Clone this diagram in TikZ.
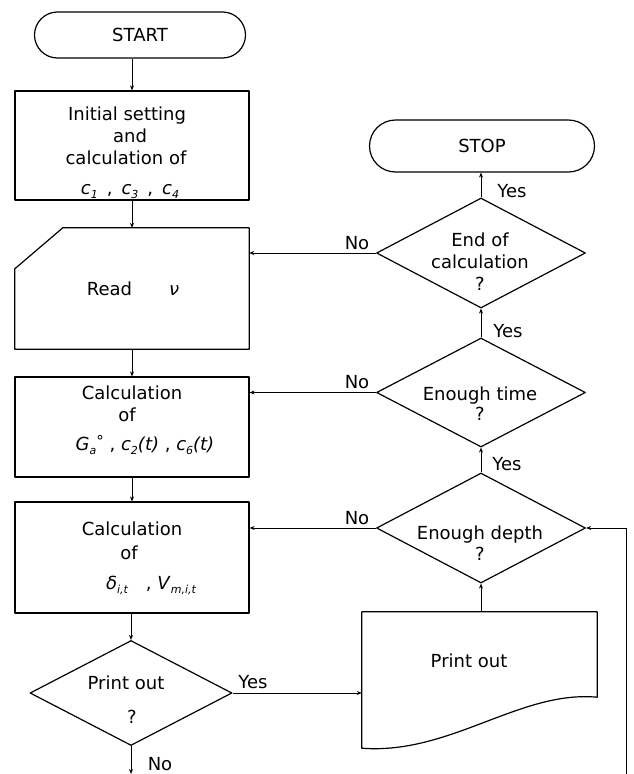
\documentclass[tikz,border=0pt]{standalone}
\usepackage{fontspec}
\setmainfont{DejaVu Sans}
\usetikzlibrary{shapes.geometric,shapes.misc,arrows.meta,calc}
\newcommand{\vsub}[1]{\raisebox{-4pt}{\fontsize{11}{11}\selectfont\itshape #1}}
\newcommand{\vsup}[1]{\raisebox{4pt}{\fontsize{15}{15}\selectfont #1}}
\begin{document}
\begin{tikzpicture}[x=1pt,y=-1pt,
  shp/.style={draw, line width=1.2pt, line join=round},
  term/.style={shp, rounded rectangle, inner sep=0pt, font=\fontsize{18}{22}\selectfont},
  proc/.style={shp, rectangle, inner sep=0pt, minimum width=234pt},
  dec/.style={shp, diamond, inner sep=0pt},
  ghost/.style={rectangle, inner sep=0pt},
  txt/.style={inner sep=0pt, anchor=base, font=\fontsize{18}{22}\selectfont},
  flow/.style={line width=0.9pt, -{Stealth[length=5pt,width=4pt]}}]
\useasboundingbox (0,0) rectangle (633,774);

% terminals
\node[term, minimum width=211pt, minimum height=46pt] (start) at (140,35) {START};
\node[term, minimum width=225pt, minimum height=52pt] (stop) at (482,146) {STOP};

% left column
\node[proc, minimum height=109pt] (init) at (132,145.5) {};
\node[ghost, minimum width=234pt, minimum height=121pt] (read) at (132,288.5) {};
\draw[shp] ($(read.north west)+(48,0)$) -- (read.north east) -- (read.south east)
  -- (read.south west) -- ($(read.north west)+(0,41)$) -- cycle;
\node[proc, minimum height=100pt] (calc1) at (132,427) {};
\node[proc, minimum height=111pt] (calc2) at (132,557.5) {};
\node[dec, minimum width=202pt, minimum height=105pt] (pd) at (131,693) {};

% right column
\node[dec, minimum width=209pt, minimum height=110pt] (endq) at (481,253) {};
\node[dec, minimum width=209pt, minimum height=109pt] (time) at (481,392.5) {};
\node[dec, minimum width=209pt, minimum height=110pt] (depth) at (481,528) {};
\node[ghost, minimum width=235pt, minimum height=136pt] (doc) at (479.5,680) {};
\draw[shp] (doc.north west) -- (doc.north east) -- ($(doc.south east)+(0,-51)$)
  .. controls (520,690) and (450,755) .. (doc.south west) -- cycle;

% texts
\node[txt] (t1) at (127,120) {Initial setting};
\node[txt] (t2) at (130,142) {and};
\node[txt] (t3) at (126,164) {calculation of};
\node[txt] (t4) at (130,194) {\textit{c}\vsub{1}\enspace,\enspace\textit{c}\vsub{3}\enspace,\enspace\textit{c}\vsub{4}};
\node[txt] (t5) at (133,295) {Read\hspace{37pt}\textit{ν}};
\node[txt] (t6) at (132,399) {Calculation};
\node[txt] (t7) at (127,421) {of};
\node[txt] (t8) at (145,450) {\textit{G}\vsub{a}\vsup{°}\ ,\ \textit{c}\vsub{2}\textit{(t)}\ ,\ \textit{c}\vsub{6}\textit{(t)}};
\node[txt] (t9) at (132,535) {Calculation};
\node[txt] (t10) at (129,559) {of};
\node[txt] (t11) at (151,589) {\textit{δ}\vsub{i,t}\quad,\ \textit{V}\vsub{m,i,t}};
\node[txt] (t12) at (126,689) {Print out};
\node[txt] (t13) at (132,723) {?};
\node[txt] (t14) at (480,246) {End of};
\node[txt] (t15) at (480,268) {calculation};
\node[txt] (t16) at (480,290) {?};
\node[txt] (t17) at (480,400) {Enough time};
\node[txt] (t18) at (480,420) {?};
\node[txt] (t19) at (480,539) {Enough depth};
\node[txt] (t20) at (480,560) {?};
\node[txt] (t21) at (469,667) {Print out};

% labels
\node[txt] (y1) at (512,197) {Yes};
\node[txt] (n1) at (357,249) {No};
\node[txt] (y2) at (508,337) {Yes};
\node[txt] (n2) at (357,388) {No};
\node[txt] (y3) at (507,470) {Yes};
\node[txt] (n3) at (357,524) {No};
\node[txt] (y4) at (253,688) {Yes};
\node[txt] (n4) at (160,770) {No};

% free ends
\coordinate (pdout) at (131,774);
\coordinate (loop) at (626,774);

% connectors
\draw[flow] (start.south -| init.north) -- (init.north);
\draw[flow] (init.south) -- (read.north);
\draw[flow] (read.south) -- (calc1.north);
\draw[flow] (calc1.south) -- (calc2.north);
\draw[flow] (calc2.south -| pd.north) -- (pd.north);
\draw[flow] (pd.south) -- (pdout);
\draw[flow] (pd.east) -- (pd.east -| doc.west);
\draw[flow] (doc.north -| depth.south) -- (depth.south);
\draw[flow] (depth.north) -- (time.south);
\draw[flow] (time.north) -- (endq.south);
\draw[flow] (endq.north) -- (stop.south -| endq.north);
\draw[flow] (endq.west) -- (endq.west -| read.east);
\draw[flow] (time.west) -- (time.west -| calc1.east);
\draw[flow] (depth.west) -- (depth.west -| calc2.east);
\draw[flow] (loop) |- (depth.east);
\end{tikzpicture}
\end{document}
